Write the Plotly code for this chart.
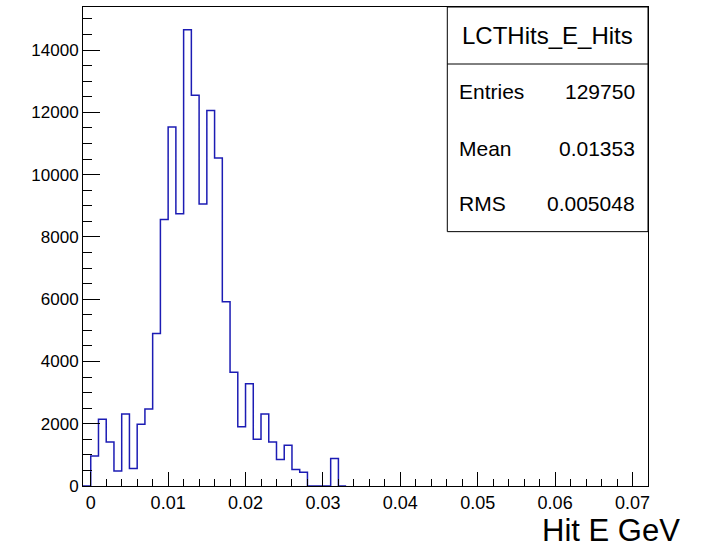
import numpy as np
import plotly.graph_objects as go

# Histogram LCTHits_E_Hits: 73 bins of 0.001 GeV from -0.001 to 0.072
bin_low = -0.001
bin_width = 0.001
n_bins = 73
counts = [0, 960, 2140, 1410, 480, 2310, 560, 1980, 2470, 4900,
          8560, 11530, 8740, 14650, 12550, 9060, 12060, 10530, 5920, 3650,
          1900, 3280, 1500, 2310, 1410, 850, 1310, 530, 440, 0,
          0, 0, 880]

stats_title = "LCTHits_E_Hits"
stats_labels = ["Entries", "Mean", "RMS"]
stats_values = ["129750", "0.01353", "0.005048"]
x_title = "Hit E GeV"

x_min = bin_low
x_max = bin_low + n_bins * bin_width
y_max = 1.05 * max(counts)

# step outline (ROOT-style histogram, no fill)
edges = [round(bin_low + k * bin_width, 6) for k in range(len(counts) + 2)]
step_y = counts + [0, 0]

FONT = "Liberation Sans, Arial, Helvetica, sans-serif"

fig = go.Figure()
fig.add_trace(go.Scatter(
    x=edges, y=step_y, mode="lines", line_shape="hv",
    line=dict(color="#1c1cb4", width=1.5),
    hoverinfo="skip", showlegend=False,
))

fig.update_layout(
    width=701, height=548,
    margin=dict(l=83, r=53, t=7, b=62),
    paper_bgcolor="white", plot_bgcolor="white",
    font=dict(family=FONT, color="black"),
    showlegend=False,
)

fig.update_xaxes(
    range=[x_min, x_max], showgrid=False, zeroline=False,
    showline=True, linecolor="black", linewidth=1, mirror=True,
    ticks="inside", ticklen=14, tickcolor="black", tickwidth=1,
    tick0=0, dtick=0.01,
    tickfont=dict(family=FONT, size=18, color="black"),
    minor=dict(ticks="inside", ticklen=7, dtick=0.002, tick0=0,
               tickcolor="black", tickwidth=1, showgrid=False),
)
fig.update_yaxes(
    range=[0, y_max], showgrid=False, zeroline=False,
    showline=True, linecolor="black", linewidth=1, mirror=True,
    ticks="inside", ticklen=17, tickcolor="black", tickwidth=1,
    tick0=0, dtick=2000, tickformat="d",
    tickfont=dict(family=FONT, size=17, color="black"),
    minor=dict(ticks="inside", ticklen=9, dtick=500, tick0=0,
               tickcolor="black", tickwidth=1, showgrid=False),
)

# statistics box
box_x0, box_x1 = 0.6448, 1.0
box_y0, box_y1 = 0.531, 1.0
sep_y = 0.881
fig.add_shape(type="rect", xref="paper", yref="paper",
              x0=box_x0, x1=box_x1, y0=box_y0, y1=box_y1,
              line=dict(color="black", width=1), fillcolor="white", layer="above")
fig.add_shape(type="line", xref="paper", yref="paper",
              x0=box_x0, x1=box_x1, y0=sep_y, y1=sep_y,
              line=dict(color="black", width=1), layer="above")
fig.add_annotation(xref="paper", yref="paper", x=0.822, y=0.9415,
                   text=stats_title, showarrow=False,
                   xanchor="center", yanchor="middle",
                   font=dict(family=FONT, size=24, color="black"))
row_y = [0.823, 0.705, 0.589]
for lab, val, yy in zip(stats_labels, stats_values, row_y):
    fig.add_annotation(xref="paper", yref="paper", x=0.6625, y=yy,
                       text=lab, showarrow=False,
                       xanchor="left", yanchor="middle",
                       font=dict(family=FONT, size=21, color="black"))
    fig.add_annotation(xref="paper", yref="paper", x=0.980, y=yy,
                       text=val, showarrow=False,
                       xanchor="right", yanchor="middle",
                       font=dict(family=FONT, size=21, color="black"))

# x-axis title, right-aligned below the axis
fig.add_annotation(xref="paper", yref="paper", x=1.06, y=-0.092,
                   text=x_title, showarrow=False,
                   xanchor="right", yanchor="middle",
                   font=dict(family=FONT, size=31, color="black"))

fig.write_html("out.html")
